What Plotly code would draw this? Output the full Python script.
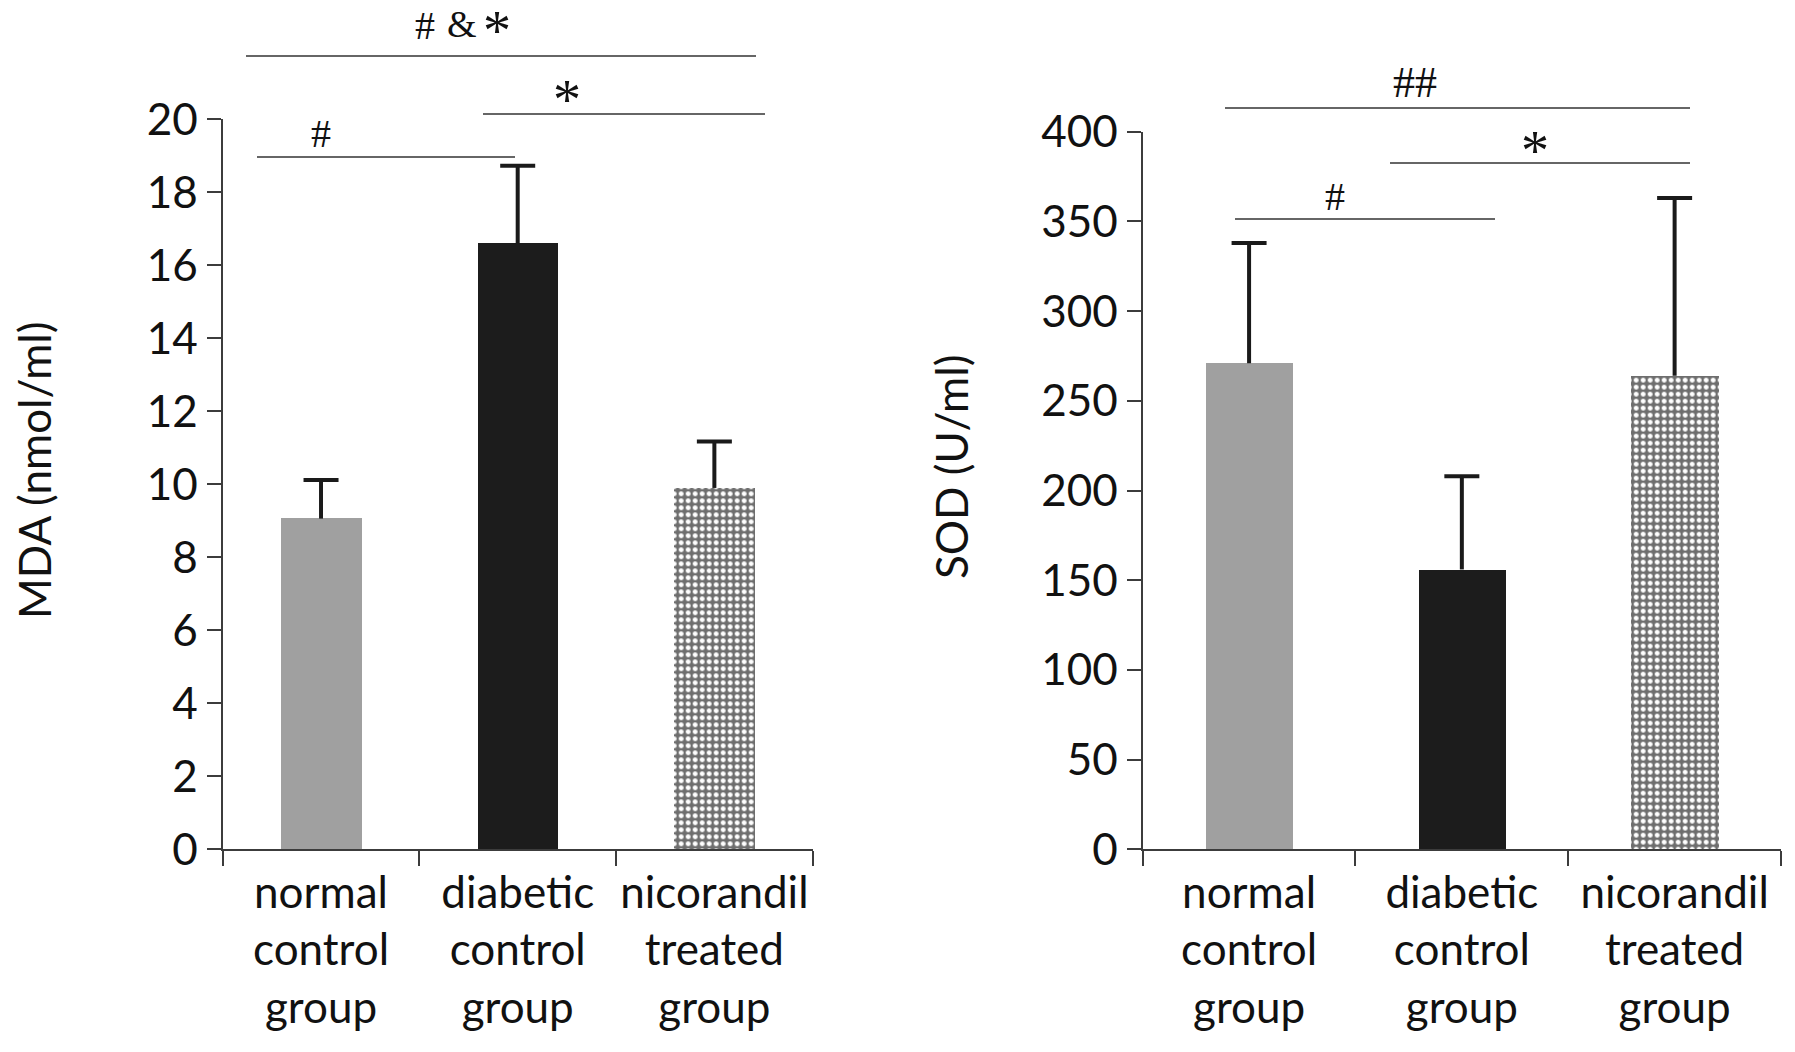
import plotly.graph_objects as go

W, H = 1795, 1052

groups = ["normal<br>control<br>group", "diabetic<br>control<br>group", "nicorandil<br>treated<br>group"]
mda_mean = [9.06, 16.6, 9.9]
mda_err = [1.06, 2.13, 1.27]
sod_mean = [271, 156, 264]
sod_err = [67, 52, 99]
mda_ticks = list(range(0, 21, 2))
sod_ticks = list(range(0, 401, 50))
bar_colors = ["#a0a0a0", "#1c1c1c", "#6e6e6e"]

# significance lines (page pixels): x0, x1, y
sig_lines = [
    (246, 756, 56), (483, 765, 114), (257, 515, 157),
    (1225, 1690, 108), (1390, 1690, 163), (1235, 1495, 219),
]
# significance marks (page pixels): text, x, y, size
sig_marks = [
    ("#", 425, 25, 40), ("&amp;", 462, 24, 38), ("*", 497, 31, 56),
    ("*", 567, 100, 56), ("#", 321, 133, 40),
    ("##", 1415, 82, 44), ("*", 1535, 151, 56), ("#", 1335, 197, 40),
]

FONT = "Lato"
TXT = "#111111"
AX = "#3c3c3c"
ERR = "#1a1a1a"
FS = 44

fig = go.Figure()


def add_bars(means, errs, xa, ya):
    fig.add_trace(go.Bar(
        x=groups, y=means, xaxis=xa, yaxis=ya, width=0.41,
        marker=dict(
            color=bar_colors, line=dict(width=0),
            pattern=dict(shape=["", "", "."], fgcolor="#a0a0a0", fgopacity=1,
                         size=7, solidity=0.4, fillmode="overlay"),
        ),
        showlegend=False, hoverinfo="skip",
    ))
    sx, sy = [], []
    for g, m, e in zip(groups, means, errs):
        sx += [g, g, None]
        sy += [m, m + e, None]
    fig.add_trace(go.Scatter(x=sx, y=sy, xaxis=xa, yaxis=ya, mode="lines",
                             line=dict(color=ERR, width=4), showlegend=False, hoverinfo="skip"))
    fig.add_trace(go.Scatter(x=groups, y=[m + e for m, e in zip(means, errs)], xaxis=xa, yaxis=ya,
                             mode="markers", marker=dict(symbol="line-ew", size=25,
                                                         line=dict(color=ERR, width=4)),
                             showlegend=False, hoverinfo="skip", cliponaxis=False))


add_bars(mda_mean, mda_err, "x", "y")
add_bars(sod_mean, sod_err, "x2", "y2")


def px(x):
    return x / W


def py(y):
    return 1 - y / H


xcommon = dict(type="category", showline=True, linecolor=AX, linewidth=2, automargin=False,
               ticks="outside", tickson="boundaries", ticklen=15, tickwidth=2, tickcolor=AX,
               tickangle=0, ticklabelstandoff=4, tickfont=dict(family=FONT, size=FS, color=TXT),
               showgrid=False, zeroline=False)
ycommon = dict(showline=True, linecolor=AX, linewidth=2, ticks="outside", ticklen=14,
               automargin=False, tickwidth=2, tickcolor=AX,
               tickfont=dict(family=FONT, size=FS, color=TXT),
               showgrid=False, zeroline=False)

fig.update_layout(
    width=W, height=H, margin=dict(l=0, r=0, t=0, b=0, autoexpand=False),
    paper_bgcolor="white", plot_bgcolor="white", bargap=0,
    xaxis=dict(domain=[px(222.7), px(812.7)], anchor="y", **xcommon),
    yaxis=dict(domain=[py(849.3), py(119.3)], anchor="x", range=[0, 20],
               tickvals=mda_ticks, **ycommon),
    xaxis2=dict(domain=[px(1142.7), px(1781)], anchor="y2", **xcommon),
    yaxis2=dict(domain=[py(849.3), py(131.7)], anchor="x2", range=[0, 400],
                tickvals=sod_ticks, **ycommon),
)

annotations = [
    dict(text="MDA (nmol/ml)", x=px(34), y=py(470), xref="paper", yref="paper",
         textangle=-90, showarrow=False, xanchor="center", yanchor="middle",
         font=dict(family=FONT, size=FS, color=TXT)),
    dict(text="SOD (U/ml)", x=px(951), y=py(467), xref="paper", yref="paper",
         textangle=-90, showarrow=False, xanchor="center", yanchor="middle",
         font=dict(family=FONT, size=FS, color=TXT)),
]
for text, tx, ty, size in sig_marks:
    annotations.append(dict(text=text, x=px(tx), y=py(ty), xref="paper", yref="paper",
                            showarrow=False, xanchor="center", yanchor="middle",
                            font=dict(family="Liberation Serif", size=size, color="#111111")))
shapes = [dict(type="line", xref="paper", yref="paper", x0=px(x0), x1=px(x1),
               y0=py(ly), y1=py(ly), line=dict(color="#333333", width=1.6))
          for x0, x1, ly in sig_lines]

fig.update_layout(annotations=annotations, shapes=shapes)

fig.write_html("out.html", config={"displayModeBar": False},
               post_script="document.body.style.margin='0px';document.body.style.overflow='hidden';")
